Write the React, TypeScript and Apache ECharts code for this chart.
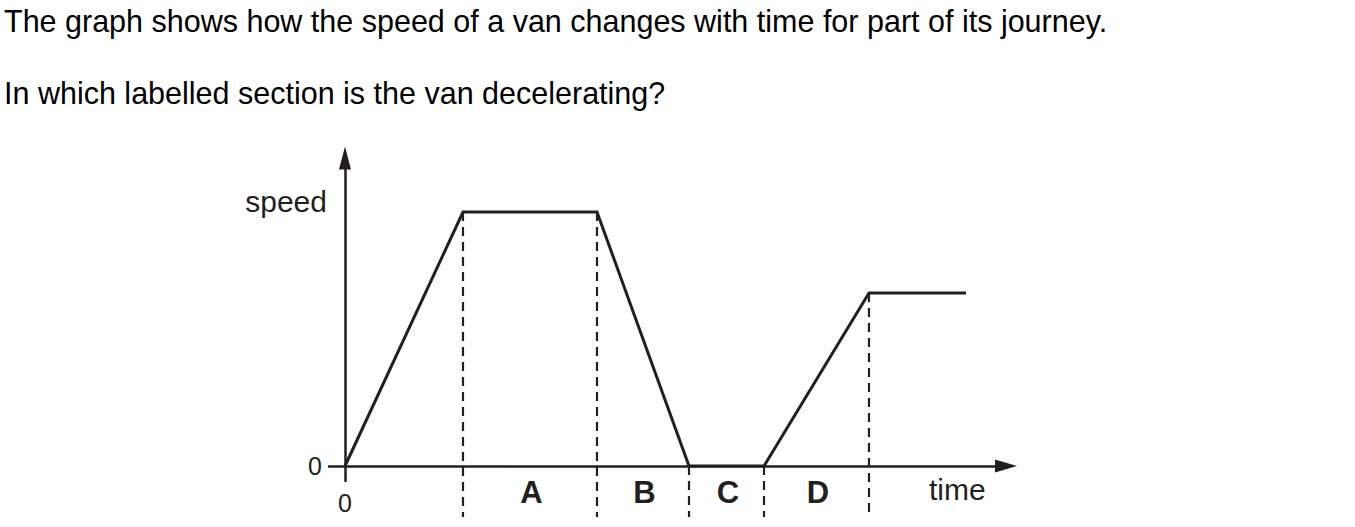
import React, { useEffect, useRef } from "react";
import * as echarts from "echarts";

// ---- data ----
const TIME = [0, 11.8, 25.2, 34.4, 41.9, 52.4, 62.1];
const SPEED = [0, 25.4, 25.4, 0, 0, 17.3, 17.3];
// indices of TIME/SPEED where dashed section boundaries are drawn
const BOUNDARY_INDEX = [1, 2, 3, 4, 5];
const SECTION_LABELS = ["A", "B", "C", "D"];
const X_TICK_VALUES = [0];
const Y_TICK_VALUES = [0];
const X_MAX = 66.1;
const Y_MAX = 30.8;
const QUESTION_LINES = [
  "The graph shows how the speed of a van changes with time for part of its journey.",
  "In which labelled section is the van decelerating?",
];
const X_NAME = "time";
const Y_NAME = "speed";

const INK = "#231f20";
const FONT = 'Arial, "Liberation Sans", Helvetica, sans-serif';

export default function App() {
  const ref = useRef<HTMLDivElement>(null);

  useEffect(() => {
    if (!ref.current) return;
    const chart = echarts.init(ref.current, null, { renderer: "svg" });

    const lineData = TIME.map((t, i) => [t, SPEED[i]]);
    const dashData = BOUNDARY_INDEX.map((i) => [TIME[i], SPEED[i]]);
    const labelData = SECTION_LABELS.map((_, k) => [
      (TIME[BOUNDARY_INDEX[k]] + TIME[BOUNDARY_INDEX[k + 1]]) / 2,
      0,
    ]);

    chart.setOption({
      animation: false,
      backgroundColor: "#ffffff",
      grid: { left: 345, top: 158, width: 661, height: 308 },
      xAxis: {
        type: "value",
        min: 0,
        max: X_MAX,
        axisLine: {
          show: true,
          symbol: ["none", "triangle"],
          symbolSize: [13, 22],
          lineStyle: { color: INK, width: 2.5 },
        },
        axisTick: {
          show: true,
          customValues: X_TICK_VALUES,
          length: 16,
          lineStyle: { color: INK, width: 2.5 },
        },
        axisLabel: {
          show: true,
          customValues: X_TICK_VALUES,
          margin: 24,
          fontSize: 25,
          fontFamily: FONT,
          color: INK,
        },
        splitLine: { show: false },
      },
      yAxis: {
        type: "value",
        min: 0,
        max: Y_MAX,
        axisLine: {
          show: true,
          symbol: ["none", "triangle"],
          symbolSize: [12, 23],
          lineStyle: { color: INK, width: 2.5 },
        },
        axisTick: {
          show: true,
          customValues: Y_TICK_VALUES,
          length: 17,
          lineStyle: { color: INK, width: 2.5 },
        },
        axisLabel: {
          show: true,
          customValues: Y_TICK_VALUES,
          margin: 23,
          fontSize: 25,
          fontFamily: FONT,
          color: INK,
          padding: [5, 0, 0, 0],
        },
        splitLine: { show: false },
      },
      series: [
        {
          type: "line",
          data: lineData,
          symbol: "none",
          z: 5,
          lineStyle: { color: INK, width: 3, join: "miter" },
        },
        {
          type: "custom",
          data: dashData,
          z: 3,
          renderItem: (_p: any, api: any) => {
            const x = api.value(0);
            const y = api.value(1);
            const top = api.coord([x, y]);
            const base = api.coord([x, 0]);
            return {
              type: "line",
              shape: { x1: top[0], y1: top[1], x2: base[0], y2: base[1] + 51 },
              style: { stroke: INK, lineWidth: 2.2, lineDash: [9, 6] },
            };
          },
        },
        {
          type: "custom",
          data: labelData,
          z: 3,
          renderItem: (params: any, api: any) => {
            const p = api.coord([api.value(0), 0]);
            return {
              type: "text",
              x: p[0] + 1.5,
              y: p[1] + 26.5,
              style: {
                text: SECTION_LABELS[params.dataIndex],
                fill: INK,
                fontSize: 31,
                fontWeight: "bold",
                fontFamily: FONT,
                align: "center",
                verticalAlign: "middle",
              },
            };
          },
        },
      ],
      graphic: [
        {
          type: "text",
          x: 4,
          y: 21,
          style: {
            text: QUESTION_LINES[0],
            fill: "#000",
            fontSize: 30.5,
            fontFamily: FONT,
            align: "left",
            verticalAlign: "middle",
          },
        },
        {
          type: "text",
          x: 4,
          y: 92.5,
          style: {
            text: QUESTION_LINES[1],
            fill: "#000",
            fontSize: 30.5,
            fontFamily: FONT,
            align: "left",
            verticalAlign: "middle",
          },
        },
        {
          type: "text",
          x: 327,
          y: 201.5,
          style: {
            text: Y_NAME,
            fill: INK,
            fontSize: 30,
            fontFamily: FONT,
            align: "right",
            verticalAlign: "middle",
          },
        },
        {
          type: "text",
          x: 929,
          y: 489,
          style: {
            text: X_NAME,
            fill: INK,
            fontSize: 30,
            fontFamily: FONT,
            align: "left",
            verticalAlign: "middle",
          },
        },
      ],
    });

    return () => chart.dispose();
  }, []);

  return (
    <div
      ref={ref}
      style={{ position: "absolute", left: 0, top: 0, width: 1355, height: 527 }}
    />
  );
}
